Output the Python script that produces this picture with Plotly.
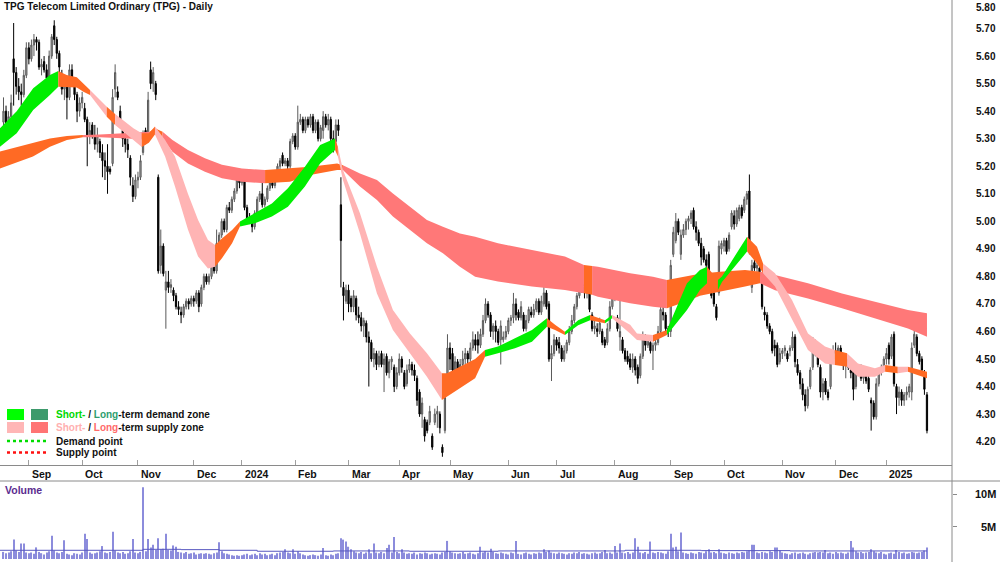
import plotly.graph_objects as go

# ---------------- data ----------------
month_labels = ['Sep', 'Oct', 'Nov', 'Dec', '2024', 'Feb', 'Mar', 'Apr', 'May', 'Jun',
                'Jul', 'Aug', 'Sep', 'Oct', 'Nov', 'Dec', '2025']
month_start_day = [10, 31, 53, 75, 94, 115, 136, 156, 176, 199, 218, 241, 263, 284, 307, 328, 348]

opens = [
    5.36, 5.40, 5.35, 5.38, 5.59, 5.54, 5.49, 5.47, 5.46, 5.53,
    5.63, 5.59, 5.64, 5.66, 5.65, 5.56, 5.58, 5.55, 5.52, 5.60,
    5.71, 5.66, 5.61, 5.53, 5.48, 5.50, 5.45, 5.55, 5.51, 5.46,
    5.40, 5.43, 5.41, 5.37, 5.31, 5.35, 5.31, 5.28, 5.29, 5.25,
    5.22, 5.20, 5.19, 5.21, 5.48, 5.47, 5.40, 5.33, 5.30, 5.28,
    5.23, 5.13, 5.09, 5.15, 5.16, 5.25, 5.33, 5.30, 5.55, 5.50,
    5.50, 5.16, 4.84, 4.91, 4.75, 4.78, 4.76, 4.75, 4.73, 4.69,
    4.67, 4.66, 4.69, 4.71, 4.70, 4.72, 4.71, 4.74, 4.70, 4.76,
    4.80, 4.78, 4.80, 4.84, 4.82, 4.92, 4.95, 5.00, 4.97, 5.05,
    5.04, 5.08, 5.11, 5.15, 5.14, 5.16, 5.05, 5.01, 5.00, 4.98,
    5.03, 5.08, 5.10, 5.06, 5.08, 5.12, 5.14, 5.13, 5.17, 5.20,
    5.24, 5.21, 5.22, 5.20, 5.29, 5.31, 5.27, 5.36, 5.37, 5.33,
    5.37, 5.35, 5.38, 5.33, 5.36, 5.30, 5.33, 5.38, 5.35, 5.37,
    5.30, 5.29, 5.35, 5.06, 4.76, 4.71, 4.75, 4.72, 4.69, 4.72,
    4.66, 4.65, 4.62, 4.63, 4.58, 4.56, 4.50, 4.52, 4.48, 4.52,
    4.48, 4.51, 4.45, 4.49, 4.47, 4.40, 4.45, 4.50, 4.45, 4.41,
    4.46, 4.48, 4.46, 4.43, 4.38, 4.30, 4.28, 4.27, 4.27, 4.22,
    4.27, 4.30, 4.30, 4.18, 4.24, 4.40, 4.54, 4.52, 4.46, 4.49,
    4.44, 4.48, 4.50, 4.52, 4.50, 4.54, 4.57, 4.57, 4.55, 4.59,
    4.64, 4.70, 4.66, 4.60, 4.62, 4.60, 4.57, 4.57, 4.58, 4.60,
    4.64, 4.65, 4.70, 4.67, 4.65, 4.66, 4.61, 4.64, 4.67, 4.66,
    4.68, 4.71, 4.67, 4.70, 4.74, 4.70, 4.50, 4.52, 4.57, 4.56,
    4.54, 4.50, 4.53, 4.56, 4.60, 4.64, 4.69, 4.73, 4.80, 4.77,
    4.74, 4.74, 4.66, 4.61, 4.61, 4.60, 4.60, 4.57, 4.56, 4.61,
    4.69, 4.73, 4.65, 4.58, 4.57, 4.53, 4.51, 4.50, 4.47, 4.50,
    4.47, 4.44, 4.51, 4.58, 4.55, 4.56, 4.53, 4.55, 4.56, 4.60,
    4.67, 4.66, 4.61, 4.60, 4.88, 4.93, 5.00, 4.88, 4.95, 4.97,
    5.00, 5.01, 5.04, 4.98, 4.96, 4.92, 4.90, 4.86, 4.88, 4.76,
    4.74, 4.69, 4.74, 4.90, 4.91, 4.93, 4.90, 4.98, 5.02, 4.99,
    5.01, 5.05, 5.04, 5.08, 5.11, 4.76, 4.85, 4.83, 4.83, 4.80,
    4.67, 4.66, 4.62, 4.60, 4.55, 4.55, 4.49, 4.52, 4.53, 4.52,
    4.53, 4.54, 4.58, 4.48, 4.45, 4.41, 4.37, 4.33, 4.40, 4.47,
    4.56, 4.51, 4.47, 4.38, 4.42, 4.38, 4.40, 4.50, 4.53, 4.52,
    4.54, 4.51, 4.48, 4.50, 4.46, 4.46, 4.40, 4.45, 4.47, 4.43,
    4.45, 4.43, 4.35, 4.34, 4.29, 4.41, 4.45, 4.47, 4.50, 4.55,
    4.51, 4.59, 4.40, 4.36, 4.38, 4.35, 4.37, 4.38, 4.38, 4.55,
    4.58, 4.52, 4.50, 4.45, 4.37]

highs = [
    5.45, 5.42, 5.40, 5.46, 5.72, 5.56, 5.52, 5.50, 5.55, 5.65,
    5.65, 5.66, 5.68, 5.67, 5.66, 5.59, 5.60, 5.57, 5.62, 5.68,
    5.73, 5.67, 5.62, 5.55, 5.52, 5.51, 5.57, 5.57, 5.52, 5.47,
    5.45, 5.47, 5.43, 5.38, 5.36, 5.36, 5.35, 5.34, 5.30, 5.28,
    5.25, 5.28, 5.20, 5.48, 5.57, 5.49, 5.42, 5.36, 5.32, 5.30,
    5.24, 5.16, 5.17, 5.18, 5.24, 5.33, 5.34, 5.47, 5.58, 5.56,
    5.51, 5.17, 4.97, 4.92, 4.82, 4.82, 4.79, 4.76, 4.74, 4.71,
    4.69, 4.70, 4.72, 4.72, 4.73, 4.73, 4.75, 4.75, 4.77, 4.81,
    4.81, 4.81, 4.85, 4.85, 4.97, 4.96, 5.01, 5.01, 5.06, 5.07,
    5.09, 5.12, 5.17, 5.16, 5.17, 5.17, 5.06, 5.03, 5.01, 5.04,
    5.09, 5.11, 5.16, 5.09, 5.13, 5.15, 5.15, 5.18, 5.21, 5.23,
    5.25, 5.23, 5.23, 5.30, 5.32, 5.32, 5.42, 5.39, 5.38, 5.38,
    5.38, 5.39, 5.39, 5.37, 5.37, 5.35, 5.40, 5.39, 5.39, 5.38,
    5.33, 5.37, 5.37, 5.16, 4.78, 4.77, 4.77, 4.73, 4.75, 4.73,
    4.69, 4.67, 4.65, 4.64, 4.60, 4.57, 4.54, 4.53, 4.53, 4.53,
    4.52, 4.52, 4.50, 4.51, 4.48, 4.47, 4.52, 4.51, 4.46, 4.48,
    4.50, 4.49, 4.48, 4.44, 4.39, 4.36, 4.29, 4.28, 4.33, 4.23,
    4.32, 4.33, 4.31, 4.19, 4.38, 4.59, 4.56, 4.54, 4.51, 4.50,
    4.50, 4.53, 4.54, 4.53, 4.56, 4.60, 4.59, 4.60, 4.61, 4.66,
    4.72, 4.71, 4.67, 4.63, 4.64, 4.61, 4.64, 4.60, 4.62, 4.65,
    4.66, 4.74, 4.72, 4.68, 4.71, 4.67, 4.66, 4.69, 4.69, 4.70,
    4.72, 4.72, 4.73, 4.78, 4.75, 4.71, 4.55, 4.59, 4.58, 4.58,
    4.55, 4.55, 4.57, 4.62, 4.66, 4.70, 4.74, 4.84, 4.81, 4.79,
    4.78, 4.75, 4.67, 4.64, 4.63, 4.65, 4.61, 4.58, 4.63, 4.71,
    4.76, 4.77, 4.66, 4.76, 4.58, 4.54, 4.53, 4.52, 4.52, 4.51,
    4.48, 4.52, 4.60, 4.59, 4.58, 4.57, 4.56, 4.57, 4.62, 4.71,
    4.69, 4.67, 4.62, 4.86, 4.98, 5.03, 5.01, 4.97, 4.99, 5.01,
    5.02, 5.04, 5.05, 5.00, 4.97, 4.94, 4.91, 4.88, 4.89, 4.77,
    4.75, 4.70, 4.93, 4.93, 4.94, 4.94, 4.96, 5.04, 5.04, 5.05,
    5.06, 5.06, 5.09, 5.11, 5.17, 4.86, 4.87, 4.85, 4.84, 4.81,
    4.69, 4.67, 4.63, 4.61, 4.57, 4.56, 4.54, 4.54, 4.55, 4.53,
    4.55, 4.60, 4.59, 4.50, 4.46, 4.43, 4.39, 4.40, 4.47, 4.58,
    4.57, 4.52, 4.48, 4.43, 4.43, 4.39, 4.52, 4.55, 4.56, 4.55,
    4.55, 4.52, 4.52, 4.51, 4.48, 4.47, 4.47, 4.48, 4.48, 4.46,
    4.46, 4.44, 4.36, 4.35, 4.43, 4.46, 4.48, 4.51, 4.54, 4.56,
    4.59, 4.60, 4.41, 4.40, 4.39, 4.38, 4.40, 4.41, 4.56, 4.62,
    4.59, 4.53, 4.51, 4.46, 4.38]

lows = [
    5.30, 5.33, 5.32, 5.36, 5.42, 5.46, 5.44, 5.42, 5.45, 5.52,
    5.57, 5.58, 5.60, 5.62, 5.55, 5.53, 5.54, 5.49, 5.51, 5.59,
    5.64, 5.59, 5.54, 5.46, 5.44, 5.37, 5.44, 5.49, 5.44, 5.36,
    5.38, 5.41, 5.36, 5.20, 5.28, 5.30, 5.26, 5.25, 5.23, 5.16,
    5.15, 5.10, 5.17, 5.20, 5.45, 5.44, 5.34, 5.27, 5.25, 5.23,
    5.13, 5.07, 5.08, 5.12, 5.15, 5.24, 5.28, 5.29, 5.48, 5.47,
    5.44, 4.81, 4.81, 4.80, 4.61, 4.74, 4.74, 4.71, 4.68, 4.66,
    4.63, 4.65, 4.68, 4.68, 4.69, 4.69, 4.70, 4.67, 4.69, 4.75,
    4.77, 4.77, 4.79, 4.81, 4.81, 4.91, 4.94, 4.96, 4.96, 5.03,
    5.03, 5.07, 5.10, 5.12, 5.13, 5.04, 5.00, 4.99, 4.96, 4.97,
    5.02, 5.07, 5.05, 5.05, 5.07, 5.11, 5.12, 5.12, 5.16, 5.19,
    5.20, 5.20, 5.19, 5.19, 5.28, 5.26, 5.26, 5.35, 5.32, 5.32,
    5.34, 5.34, 5.32, 5.32, 5.29, 5.29, 5.30, 5.34, 5.33, 5.27,
    5.25, 5.28, 5.31, 4.76, 4.64, 4.70, 4.67, 4.67, 4.67, 4.64,
    4.63, 4.60, 4.58, 4.56, 4.40, 4.49, 4.47, 4.46, 4.47, 4.47,
    4.38, 4.44, 4.43, 4.46, 4.38, 4.39, 4.44, 4.45, 4.39, 4.40,
    4.45, 4.44, 4.42, 4.33, 4.29, 4.25, 4.20, 4.23, 4.26, 4.17,
    4.26, 4.25, 4.23, 4.145, 4.23, 4.39, 4.46, 4.44, 4.42, 4.42,
    4.43, 4.47, 4.48, 4.47, 4.49, 4.53, 4.53, 4.52, 4.54, 4.58,
    4.63, 4.65, 4.58, 4.57, 4.56, 4.55, 4.48, 4.56, 4.57, 4.59,
    4.62, 4.63, 4.64, 4.64, 4.64, 4.60, 4.60, 4.63, 4.65, 4.65,
    4.67, 4.66, 4.66, 4.69, 4.68, 4.49, 4.42, 4.51, 4.53, 4.52,
    4.49, 4.49, 4.52, 4.55, 4.59, 4.63, 4.68, 4.72, 4.74, 4.72,
    4.72, 4.67, 4.60, 4.59, 4.58, 4.59, 4.55, 4.54, 4.55, 4.60,
    4.68, 4.71, 4.60, 4.53, 4.52, 4.49, 4.48, 4.46, 4.45, 4.44,
    4.41, 4.43, 4.50, 4.53, 4.54, 4.52, 4.46, 4.53, 4.55, 4.59,
    4.64, 4.60, 4.58, 4.58, 4.87, 4.92, 4.95, 4.86, 4.94, 4.95,
    4.97, 4.99, 4.97, 4.93, 4.91, 4.84, 4.85, 4.80, 4.76, 4.72,
    4.69, 4.64, 4.73, 4.88, 4.89, 4.88, 4.89, 4.97, 4.97, 4.98,
    5.00, 5.01, 5.03, 5.06, 4.88, 4.74, 4.82, 4.80, 4.79, 4.68,
    4.64, 4.61, 4.59, 4.52, 4.51, 4.47, 4.48, 4.50, 4.51, 4.49,
    4.51, 4.53, 4.47, 4.44, 4.39, 4.35, 4.31, 4.32, 4.39, 4.46,
    4.51, 4.47, 4.36, 4.35, 4.37, 4.35, 4.39, 4.49, 4.51, 4.50,
    4.50, 4.46, 4.43, 4.46, 4.43, 4.35, 4.39, 4.44, 4.42, 4.41,
    4.41, 4.38, 4.24, 4.28, 4.28, 4.40, 4.44, 4.46, 4.48, 4.48,
    4.50, 4.40, 4.30, 4.33, 4.33, 4.33, 4.35, 4.36, 4.35, 4.54,
    4.51, 4.48, 4.44, 4.37, 4.23]

closes = [
    5.40, 5.35, 5.38, 5.43, 5.54, 5.49, 5.47, 5.46, 5.53, 5.63,
    5.59, 5.64, 5.66, 5.65, 5.56, 5.57, 5.55, 5.52, 5.60, 5.67,
    5.66, 5.61, 5.56, 5.48, 5.50, 5.45, 5.55, 5.51, 5.46, 5.40,
    5.43, 5.45, 5.37, 5.31, 5.33, 5.31, 5.28, 5.31, 5.25, 5.22,
    5.20, 5.18, 5.18, 5.45, 5.54, 5.45, 5.35, 5.30, 5.28, 5.26,
    5.16, 5.09, 5.15, 5.16, 5.22, 5.31, 5.29, 5.44, 5.50, 5.54,
    5.46, 4.82, 4.91, 4.81, 4.78, 4.76, 4.77, 4.73, 4.69, 4.68,
    4.66, 4.69, 4.71, 4.70, 4.72, 4.71, 4.74, 4.69, 4.76, 4.80,
    4.78, 4.80, 4.84, 4.82, 4.92, 4.95, 5.00, 4.97, 5.05, 5.04,
    5.08, 5.11, 5.15, 5.14, 5.16, 5.05, 5.01, 5.00, 4.98, 5.03,
    5.08, 5.10, 5.06, 5.08, 5.12, 5.14, 5.13, 5.17, 5.20, 5.22,
    5.21, 5.22, 5.20, 5.29, 5.31, 5.27, 5.36, 5.37, 5.33, 5.37,
    5.35, 5.38, 5.33, 5.36, 5.30, 5.34, 5.38, 5.35, 5.37, 5.30,
    5.28, 5.35, 5.33, 4.93, 4.73, 4.75, 4.70, 4.69, 4.73, 4.66,
    4.65, 4.62, 4.64, 4.58, 4.56, 4.50, 4.52, 4.48, 4.51, 4.48,
    4.50, 4.45, 4.49, 4.50, 4.40, 4.45, 4.50, 4.47, 4.40, 4.46,
    4.48, 4.46, 4.44, 4.35, 4.30, 4.34, 4.22, 4.24, 4.31, 4.18,
    4.30, 4.31, 4.25, 4.16, 4.36, 4.54, 4.50, 4.46, 4.49, 4.44,
    4.48, 4.50, 4.52, 4.50, 4.54, 4.57, 4.55, 4.55, 4.59, 4.64,
    4.70, 4.66, 4.60, 4.62, 4.60, 4.56, 4.62, 4.58, 4.60, 4.64,
    4.65, 4.70, 4.66, 4.65, 4.69, 4.61, 4.64, 4.68, 4.66, 4.68,
    4.71, 4.67, 4.71, 4.74, 4.69, 4.50, 4.52, 4.57, 4.55, 4.54,
    4.50, 4.53, 4.56, 4.60, 4.64, 4.69, 4.73, 4.80, 4.75, 4.74,
    4.76, 4.68, 4.61, 4.62, 4.60, 4.63, 4.56, 4.55, 4.61, 4.69,
    4.74, 4.75, 4.61, 4.60, 4.53, 4.50, 4.49, 4.47, 4.50, 4.46,
    4.43, 4.51, 4.58, 4.55, 4.57, 4.53, 4.55, 4.56, 4.60, 4.68,
    4.66, 4.61, 4.60, 4.84, 4.96, 5.00, 4.96, 4.95, 4.97, 5.00,
    5.01, 5.03, 4.98, 4.96, 4.92, 4.87, 4.86, 4.84, 4.77, 4.73,
    4.70, 4.65, 4.91, 4.92, 4.93, 4.89, 4.95, 5.03, 4.99, 5.04,
    5.05, 5.02, 5.08, 5.10, 4.90, 4.84, 4.83, 4.84, 4.80, 4.69,
    4.66, 4.62, 4.60, 4.53, 4.54, 4.48, 4.52, 4.53, 4.54, 4.50,
    4.54, 4.58, 4.49, 4.45, 4.41, 4.37, 4.33, 4.39, 4.46, 4.56,
    4.52, 4.48, 4.38, 4.41, 4.38, 4.36, 4.50, 4.53, 4.52, 4.54,
    4.51, 4.48, 4.50, 4.47, 4.45, 4.39, 4.45, 4.46, 4.43, 4.44,
    4.42, 4.39, 4.34, 4.29, 4.41, 4.45, 4.47, 4.50, 4.52, 4.50,
    4.58, 4.41, 4.36, 4.38, 4.35, 4.37, 4.38, 4.40, 4.54, 4.59,
    4.52, 4.49, 4.46, 4.39, 4.24]

# volume in millions of shares
volumes = [
    1.1, 0.9, 1.0, 1.2, 3.0, 1.3, 1.1, 2.4, 2.4, 1.0,
    0.9, 1.0, 0.8, 1.8, 1.1, 0.9, 0.7, 1.0, 1.2, 3.6,
    1.3, 1.0, 0.9, 1.1, 2.9, 0.8, 0.7, 0.6, 0.9, 0.8,
    0.7, 1.0, 3.9, 3.1, 1.0, 0.8, 0.9, 1.0, 1.2, 2.0,
    1.0, 0.9, 1.1, 4.2, 1.3, 1.0, 0.9, 1.1, 0.8, 0.9,
    1.2, 3.1, 1.0, 0.9, 1.1, 11.1, 1.2, 3.1, 1.8, 2.2,
    1.4, 3.2, 1.5, 1.6, 3.9, 1.4, 1.3, 2.1, 1.9, 1.1,
    1.0, 0.9, 1.1, 0.8, 0.9, 1.0, 0.7, 0.8, 0.9, 0.8,
    0.9, 0.8, 0.7, 0.9, 1.0, 2.6, 1.2, 0.9, 0.8, 0.7,
    0.6, 0.5, 0.6, 0.5, 0.6, 0.7, 0.8, 0.6, 0.7, 0.8,
    0.6, 0.9, 0.7, 0.8, 0.6, 0.7, 0.8, 0.6, 0.9, 1.0,
    1.1, 1.5, 1.0, 0.9, 1.5, 0.8, 1.2, 0.9, 0.7, 0.6,
    0.5, 0.6, 0.7, 0.6, 0.5, 0.7, 1.7, 0.6, 0.5, 0.7,
    0.6, 0.8, 0.9, 3.2, 3.0, 2.7, 1.9, 1.5, 1.2, 1.0,
    0.9, 1.1, 0.8, 1.0, 1.5, 0.9, 2.4, 1.0, 0.9, 1.1,
    0.9, 1.7, 2.2, 1.0, 3.4, 1.1, 0.9, 1.5, 1.0, 0.8,
    0.9, 0.8, 1.0, 0.7, 0.9, 0.8, 1.0, 0.9, 0.7, 0.8,
    0.9, 0.8, 0.7, 1.0, 1.1, 2.8, 1.2, 1.0, 0.9, 0.8,
    0.9, 1.1, 0.8, 0.9, 1.0, 0.8, 0.7, 0.9, 1.9, 1.0,
    1.2, 1.0, 1.6, 1.1, 0.9, 0.8, 1.0, 0.9, 0.8, 0.7,
    1.0, 0.9, 2.8, 0.8, 0.7, 0.9, 1.0, 0.8, 0.7, 0.9,
    0.8, 1.0, 0.9, 1.5, 1.1, 1.3, 1.0, 0.9, 0.8, 1.0,
    0.9, 0.8, 0.7, 0.9, 0.8, 1.0, 0.9, 1.1, 0.8, 0.9,
    0.8, 0.7, 0.9, 1.0, 0.8, 0.9, 1.1, 1.4, 0.9, 1.0,
    0.8, 2.0, 1.0, 2.4, 1.0, 0.9, 1.1, 0.8, 1.0, 3.2,
    1.9, 1.0, 0.9, 1.1, 0.8, 2.7, 1.0, 0.9, 1.1, 1.0,
    0.9, 0.8, 1.2, 3.9, 1.8, 1.9, 1.2, 4.1, 1.0, 0.9,
    0.8, 1.0, 0.9, 0.8, 1.1, 1.0, 0.9, 1.2, 1.5, 1.0,
    1.1, 0.9, 1.5, 1.0, 0.9, 0.8, 1.0, 0.9, 0.8, 1.0,
    0.9, 1.1, 1.0, 1.2, 1.3, 2.2, 2.2, 1.0, 0.9, 1.1,
    1.0, 0.9, 1.2, 1.1, 1.8, 1.8, 1.3, 1.0, 0.9, 0.8,
    0.7, 0.9, 1.0, 0.8, 0.9, 1.0, 0.8, 0.7, 0.9, 1.0,
    1.1, 1.0, 1.1, 1.0, 1.4, 0.9, 1.0, 0.8, 1.1, 0.9,
    1.0, 0.9, 0.8, 1.0, 2.8, 1.8, 1.2, 1.0, 1.1, 0.9,
    1.0, 1.1, 1.5, 1.2, 1.0, 0.9, 1.1, 0.8, 0.7, 0.9,
    1.0, 0.8, 1.4, 1.1, 0.9, 1.0, 0.8, 0.9, 1.1, 1.0,
    0.9, 1.0, 1.1, 1.3, 1.8]

# volume average line (millions), read at its steps
vol_avg_day = [-1.4, 55, 70, 85, 100, 130, 160, 195, 245, 275, 310, 364]
vol_avg_val = [1.35, 1.5, 1.45, 1.35, 1.2, 1.25, 1.2, 1.25, 1.35, 1.3, 1.25, 1.25]

# short-term zone: day position, upper / lower price, state of the following stretch
short_day = [-1.4, 5.2, 11.7, 18.3, 21.6, 24.9, 28.9, 31.5, 34.1, 36.7, 40.7, 44.0, 46.6, 51.2,
             54.5, 57.3, 59.7, 63.7, 67.6, 72.7, 76.7, 80.6, 83.4, 86.1, 90.1, 93.2, 99.1, 105.8,
             112.1, 118.8, 124.8, 130.7, 131.8, 133.8, 140.5, 147.2, 153.5, 160.2, 166.9, 172.8,
             174.8, 179.9, 185.9, 189.8, 194.9, 201.6, 208.3, 214.2, 217.4, 221.3, 226.5, 231.2,
             237.1, 239.9, 242.2, 247.0, 249.7, 256.0, 261.5, 269.4, 274.5, 277.3, 281.6, 283.2,
             293.1, 297.0, 299.4, 304.1, 310.8, 317.1, 323.8, 327.7, 332.5, 336.8, 343.5, 347.5,
             352.5, 356.5, 364]
short_top = [5.338, 5.40, 5.483, 5.531, 5.546, 5.531, 5.523, 5.50, 5.477, 5.453, 5.416, 5.39, 5.37,
             5.338, 5.32, 5.32, 5.344, 5.295, 5.235, 5.10, 5.005, 4.932, 4.914, 4.938, 4.968, 4.999,
             5.029, 5.065, 5.12, 5.198, 5.277, 5.301, 5.27, 5.186, 5.029, 4.835, 4.678, 4.593, 4.521,
             4.448, 4.448, 4.472, 4.50, 4.533, 4.545, 4.575, 4.605, 4.648, 4.624, 4.599, 4.641, 4.66,
             4.641, 4.66, 4.648, 4.624, 4.593, 4.587, 4.605, 4.775, 4.823, 4.835, 4.787, 4.80, 4.944,
             4.908, 4.847, 4.811, 4.714, 4.593, 4.545, 4.533, 4.521, 4.484, 4.466, 4.478, 4.472,
             4.472, 4.454]
short_bot = [5.271, 5.32, 5.404, 5.459, 5.489, 5.489, 5.486, 5.47, 5.459, 5.428, 5.38, 5.35, 5.33,
             5.295, 5.27, 5.285, 5.315, 5.235, 5.126, 4.97, 4.872, 4.829, 4.835, 4.866, 4.92, 4.981,
             4.993, 5.017, 5.053, 5.126, 5.21, 5.259, 5.235, 5.15, 4.956, 4.738, 4.605, 4.521, 4.436,
             4.351, 4.363, 4.393, 4.43, 4.508, 4.521, 4.539, 4.563, 4.617, 4.605, 4.587, 4.623, 4.641,
             4.63, 4.648, 4.63, 4.593, 4.569, 4.563, 4.587, 4.678, 4.751, 4.775, 4.751, 4.78, 4.89,
             4.847, 4.811, 4.763, 4.642, 4.533, 4.484, 4.478, 4.472, 4.436, 4.436, 4.454, 4.448,
             4.454, 4.43]
short_state = "GGGGOOOOPPOPPPOOPPPPPPOOOGGGGGGOPPPPPPPOOOOGGGGOOGGOGPPPPOGGGOGGOOPPPPPOPPPOPO-"

# long-term zone
long_day = [-1.4, 11.6, 18.3, 25.0, 31.3, 38.0, 51.0, 57.7, 59.7, 62.7, 66.6, 72.7, 79.4, 86.1,
            94.0, 103.1, 112.9, 120.8, 131.5, 133.8, 140.5, 147.2, 153.5, 160.2, 166.9, 173.2,
            179.9, 185.9, 194.9, 208.3, 221.3, 228.8, 232.0, 234.3, 247.0, 256.0, 261.5, 269.4,
            274.5, 282.4, 292.3, 298.2, 304.1, 317.1, 330.5, 343.5, 356.5, 364]
long_top = [5.253, 5.283, 5.301, 5.31, 5.313, 5.315, 5.322, 5.325, 5.338, 5.325, 5.295, 5.259, 5.229,
            5.205, 5.192, 5.186, 5.192, 5.198, 5.21, 5.204, 5.174, 5.15, 5.101, 5.053, 5.005, 4.98,
            4.956, 4.944, 4.92, 4.896, 4.872, 4.841, 4.838, 4.835, 4.811, 4.799, 4.787, 4.80, 4.81,
            4.817, 4.823, 4.817, 4.805, 4.775, 4.738, 4.708, 4.678, 4.666]
long_bot = [5.192, 5.235, 5.271, 5.295, 5.305, 5.305, 5.30, 5.295, 5.325, 5.301, 5.253, 5.21, 5.18,
            5.156, 5.144, 5.138, 5.144, 5.168, 5.186, 5.186, 5.126, 5.077, 5.017, 4.968, 4.92, 4.884,
            4.835, 4.799, 4.781, 4.763, 4.751, 4.739, 4.733, 4.726, 4.702, 4.69, 4.684, 4.71, 4.73,
            4.745, 4.763, 4.775, 4.75, 4.72, 4.684, 4.648, 4.611, 4.581]
long_state = "OOOORRROORRRRRROOOORRRRRRRRRRRRORRRROOOOORRRRRR-"

price_ticks = [4.20, 4.30, 4.40, 4.50, 4.60, 4.70, 4.80, 4.90, 5.00, 5.10, 5.20, 5.30, 5.40,
               5.50, 5.60, 5.70, 5.80]

# ---------------- styling / geometry ----------------
FONT = "Liberation Sans, Arial, sans-serif"
PLOT_W = 952.0
FIG_H = 562.0
X_RANGE = [-3.5 / 2.537, (PLOT_W - 3.5) / 2.537]
PRICE_BOTTOM = 1 - 465 / FIG_H
VOL_TOP = 1 - 481 / FIG_H
Y_RANGE = [4.1151, 5.8036]

ZONE_COLORS = {'G': '#00ee00', 'O': '#ff6a24', 'P': '#ffb4b4', 'R': '#ff7878'}

fig = go.Figure()


def add_zone(days, top, bot, states):
    n = len(days)
    k = 0
    while k < n - 1:
        c = states[k]
        j = k
        while j + 1 < n - 1 and states[j + 1] == c:
            j += 1
        seg_x = days[k:j + 2]
        xs = seg_x + seg_x[::-1]
        ys = top[k:j + 2] + bot[k:j + 2][::-1]
        fig.add_trace(go.Scatter(x=xs, y=ys, mode='lines', fill='toself',
                                 fillcolor=ZONE_COLORS[c], line=dict(width=0, color=ZONE_COLORS[c]),
                                 hoverinfo='skip', showlegend=False, xaxis='x', yaxis='y'))
        k = j + 1


add_zone(long_day, long_top, long_bot, long_state)
add_zone(short_day, short_top, short_bot, short_state)

days = list(range(len(closes)))
fig.add_trace(go.Candlestick(
    x=days, open=opens, high=highs, low=lows, close=closes,
    increasing=dict(line=dict(color='#5a5a5a', width=1), fillcolor='#a8a8a8'),
    decreasing=dict(line=dict(color='#000000', width=1), fillcolor='#000000'),
    whiskerwidth=0, showlegend=False, hoverinfo='skip', xaxis='x', yaxis='y'))

fig.add_trace(go.Bar(x=days, y=volumes, width=0.45,
                     marker=dict(color='#8c8cdc', line=dict(width=0)),
                     showlegend=False, hoverinfo='skip', xaxis='x2', yaxis='y2'))
fig.add_trace(go.Scatter(x=vol_avg_day, y=vol_avg_val, mode='lines',
                         line=dict(color='#5858c0', width=1, shape='hv'),
                         showlegend=False, hoverinfo='skip', xaxis='x2', yaxis='y2'))

fig.update_layout(
    width=1000, height=562,
    margin=dict(l=0, r=48, t=0, b=0),
    paper_bgcolor='white', plot_bgcolor='white',
    showlegend=False,
    font=dict(family=FONT, size=10, color='black'),
    xaxis=dict(domain=[0, 1], range=X_RANGE, anchor='y', showgrid=False, zeroline=False,
               showline=True, linecolor='#8a8a8a', linewidth=1,
               ticks='inside', ticklen=5, tickcolor='#a0a0a0', tickwidth=1,
               tickvals=month_start_day, showticklabels=False,
               rangeslider=dict(visible=False), fixedrange=True),
    yaxis=dict(domain=[PRICE_BOTTOM, 1], range=Y_RANGE, side='right', anchor='x',
               showgrid=False, zeroline=False, showline=False, showticklabels=False, ticks=''),
    xaxis2=dict(domain=[0, 1], range=X_RANGE, anchor='y2', showgrid=False, zeroline=False,
                showline=False, showticklabels=False, ticks=''),
    yaxis2=dict(domain=[0, VOL_TOP], range=[-0.46, 12.06], side='right', anchor='x2',
                showgrid=False, zeroline=False, showline=False,
                ticks='outside', ticklen=4, tickcolor='#8a8a8a', tickvals=[5, 10],
                showticklabels=False),
)

shapes = []
# right border of the chart panels
shapes.append(dict(type='line', xref='paper', yref='paper', x0=1, x1=1, y0=0, y1=1,
                   line=dict(color='#8a8a8a', width=1)))
# top border of the volume panel
shapes.append(dict(type='line', xref='paper', yref='paper', x0=0, x1=1000 / PLOT_W,
                   y0=VOL_TOP, y1=VOL_TOP, line=dict(color='#8a8a8a', width=1)))


def px_x(px):
    return px / PLOT_W


def px_y(py):
    return 1 - py / FIG_H


# legend swatches
legend_boxes = [(7, 409, 24, 420, '#00ff00'), (31, 409, 48, 420, '#3d9a6c'),
                (7, 422, 24, 433, '#ffb6b6'), (31, 422, 48, 433, '#ff7474')]
for x0, y0, x1, y1, col in legend_boxes:
    shapes.append(dict(type='rect', xref='paper', yref='paper', x0=px_x(x0), x1=px_x(x1),
                       y0=px_y(y1), y1=px_y(y0), fillcolor=col, line=dict(width=0)))
for yy, col in [(441, '#00dd00'), (452.5, '#ff1010')]:
    shapes.append(dict(type='line', xref='paper', yref='paper', x0=px_x(7), x1=px_x(48),
                       y0=px_y(yy), y1=px_y(yy), line=dict(color=col, width=2.5, dash='dot')))
fig.update_layout(shapes=shapes)

ann = []
ann.append(dict(text='<b>TPG Telecom Limited Ordinary (TPG) - Daily</b>', xref='paper', yref='paper',
                x=px_x(2), y=px_y(6.5), xanchor='left', yanchor='middle', showarrow=False,
                font=dict(family=FONT, size=10, color='#111111')))
legend_texts = [
    (414.5, '<b><span style="color:#00d800">Short-</span> / <span style="color:#2e9e6e">Long</span>-term demand zone</b>'),
    (427.5, '<b><span style="color:#ffb0b0">Short-</span> / <span style="color:#ff6a6a">Long</span>-term supply zone</b>'),
    (441, '<b>Demand point</b>'),
    (452.5, '<b>Supply point</b>'),
]
for yy, t in legend_texts:
    ann.append(dict(text=t, xref='paper', yref='paper', x=px_x(54), y=px_y(yy),
                    xanchor='left', yanchor='middle', showarrow=False,
                    font=dict(family=FONT, size=10, color='#111111')))
for d, lab in zip(month_start_day, month_labels):
    ann.append(dict(text='<b>%s</b>' % lab, xref='x', yref='paper', x=d, y=px_y(473.5),
                    xanchor='left', yanchor='middle', xshift=1, showarrow=False,
                    font=dict(family=FONT, size=10.5, color='#111111')))
# price scale labels (right aligned at the page edge); the top one is kept inside the page
for v in price_ticks:
    if v >= 5.795:
        ann.append(dict(text='<b>%.2f</b>' % v, xref='paper', yref='paper', x=998 / PLOT_W, y=1,
                        xanchor='right', yanchor='top', showarrow=False,
                        font=dict(family=FONT, size=10, color='#111111')))
    else:
        ann.append(dict(text='<b>%.2f</b>' % v, xref='paper', yref='y', x=998 / PLOT_W, y=v,
                        xanchor='right', yanchor='middle', showarrow=False,
                        font=dict(family=FONT, size=10, color='#111111')))
ann.append(dict(text='<b>Volume</b>', xref='paper', yref='paper', x=px_x(3), y=px_y(489.5),
                xanchor='left', yanchor='middle', showarrow=False,
                font=dict(family=FONT, size=10.5, color='#5b2c8f')))
for v, lab in [(10, '10M'), (5, '5M')]:
    ann.append(dict(text='<b>%s</b>' % lab, xref='paper', yref='y2', x=998 / PLOT_W, y=v,
                    xanchor='right', yanchor='middle', showarrow=False,
                    font=dict(family=FONT, size=11, color='#111111')))
fig.update_layout(annotations=ann)

fig.write_html("out.html")
